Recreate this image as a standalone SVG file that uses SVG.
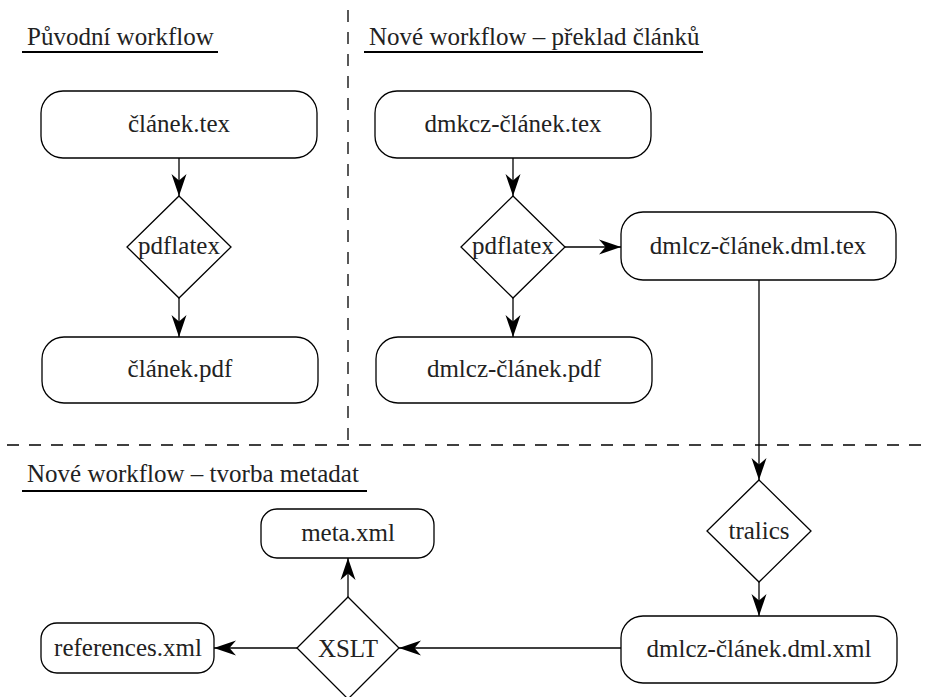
<svg xmlns="http://www.w3.org/2000/svg" width="926" height="697" viewBox="0 0 926 697">
  <style>
    .box { fill: #fff; stroke: #000; stroke-width: 1.3; }
    .lbl { font-family: 'Liberation Serif', 'DejaVu Serif', 'Noto Serif', 'FreeSerif', 'Nimbus Roman', 'Times New Roman', Times, serif; font-size: 25px; fill: #222; text-anchor: middle; }
    .title { font-family: 'Liberation Serif', 'DejaVu Serif', 'Noto Serif', 'FreeSerif', 'Nimbus Roman', 'Times New Roman', Times, serif; font-size: 25px; fill: #222; }
    .ul { stroke: #000; stroke-width: 2; }
    .dash { stroke: #000; stroke-width: 1.3; stroke-dasharray: 12 10; fill: none; }
    .edge { stroke: #000; stroke-width: 1.3; fill: none; marker-end: url(#stealth); }
  </style>
  <defs>
    <marker id="stealth" markerUnits="userSpaceOnUse" viewBox="-23 -8 25 16" refX="0" refY="0" markerWidth="25" markerHeight="16" orient="auto">
      <path d="M0,0 L-22,-7.5 L-15.5,0 L-22,7.5 Z" fill="#000"/>
    </marker>
  </defs>
  <rect width="926" height="697" fill="#fff"/>

  <g id="separators">
    <line class="dash" x1="348" y1="10" x2="348" y2="445"/>
    <line class="dash" x1="7" y1="445" x2="926" y2="445"/>
  </g>

  <g id="titles">
    <text class="title" x="27" y="45">Původní workflow</text>
    <line class="ul" x1="22" y1="52" x2="218" y2="52"/>
    <text class="title" x="369" y="45">Nové workflow – překlad článků</text>
    <line class="ul" x1="364" y1="52" x2="703" y2="52"/>
    <text class="title" x="27" y="482">Nové workflow – tvorba metadat</text>
    <line class="ul" x1="22" y1="491" x2="367" y2="491"/>
  </g>

  <g id="connectors">
    <line class="edge" x1="179" y1="158" x2="179" y2="196"/>
    <line class="edge" x1="179" y1="298" x2="179" y2="337"/>
    <line class="edge" x1="513" y1="158" x2="513" y2="196"/>
    <line class="edge" x1="513" y1="298" x2="513" y2="337"/>
    <line class="edge" x1="565" y1="247" x2="621" y2="247"/>
    <line class="edge" x1="759" y1="280" x2="759" y2="480"/>
    <line class="edge" x1="759" y1="582" x2="759" y2="616"/>
    <line class="edge" x1="621" y1="648" x2="399" y2="648"/>
    <line class="edge" x1="348" y1="597" x2="348" y2="558"/>
    <line class="edge" x1="297" y1="648" x2="214" y2="648"/>
  </g>

  <g id="clanek-tex">
    <rect class="box" x="41" y="91" width="276" height="67" rx="22" ry="22"/>
    <text class="lbl" x="179" y="132">článek.tex</text>
  </g>
  <g id="pdflatex-1">
    <polygon class="box" points="179,196 231,247 179,298 127,247"/>
    <text class="lbl" x="179" y="254">pdflatex</text>
  </g>
  <g id="clanek-pdf">
    <rect class="box" x="42" y="337" width="276" height="66" rx="22" ry="22"/>
    <text class="lbl" x="180" y="377">článek.pdf</text>
  </g>

  <g id="dmkcz-clanek-tex">
    <rect class="box" x="375" y="91" width="276" height="67" rx="22" ry="22"/>
    <text class="lbl" x="513" y="132">dmkcz-článek.tex</text>
  </g>
  <g id="pdflatex-2">
    <polygon class="box" points="513,196 565,247 513,298 461,247"/>
    <text class="lbl" x="513" y="254">pdflatex</text>
  </g>
  <g id="dmlcz-clanek-pdf">
    <rect class="box" x="376" y="337" width="276" height="66" rx="22" ry="22"/>
    <text class="lbl" x="514" y="377">dmlcz-článek.pdf</text>
  </g>
  <g id="dmlcz-clanek-dml-tex">
    <rect class="box" x="621" y="212" width="275" height="68" rx="22" ry="22"/>
    <text class="lbl" x="758" y="254">dmlcz-článek.dml.tex</text>
  </g>

  <g id="tralics">
    <polygon class="box" points="759,480 811,531 759,582 707,531"/>
    <text class="lbl" x="759" y="539">tralics</text>
  </g>
  <g id="dmlcz-clanek-dml-xml">
    <rect class="box" x="621" y="616" width="276" height="67" rx="22" ry="22"/>
    <text class="lbl" x="759" y="657">dmlcz-článek.dml.xml</text>
  </g>
  <g id="xslt">
    <polygon class="box" points="348,597 399,648 348,699 297,648"/>
    <text class="lbl" x="348" y="657">XSLT</text>
  </g>
  <g id="meta-xml">
    <rect class="box" x="261" y="509" width="173" height="49" rx="16" ry="16"/>
    <text class="lbl" x="348" y="541">meta.xml</text>
  </g>
  <g id="references-xml">
    <rect class="box" x="41" y="623" width="173" height="50" rx="16" ry="16"/>
    <text class="lbl" x="128" y="656">references.xml</text>
  </g>
</svg>
